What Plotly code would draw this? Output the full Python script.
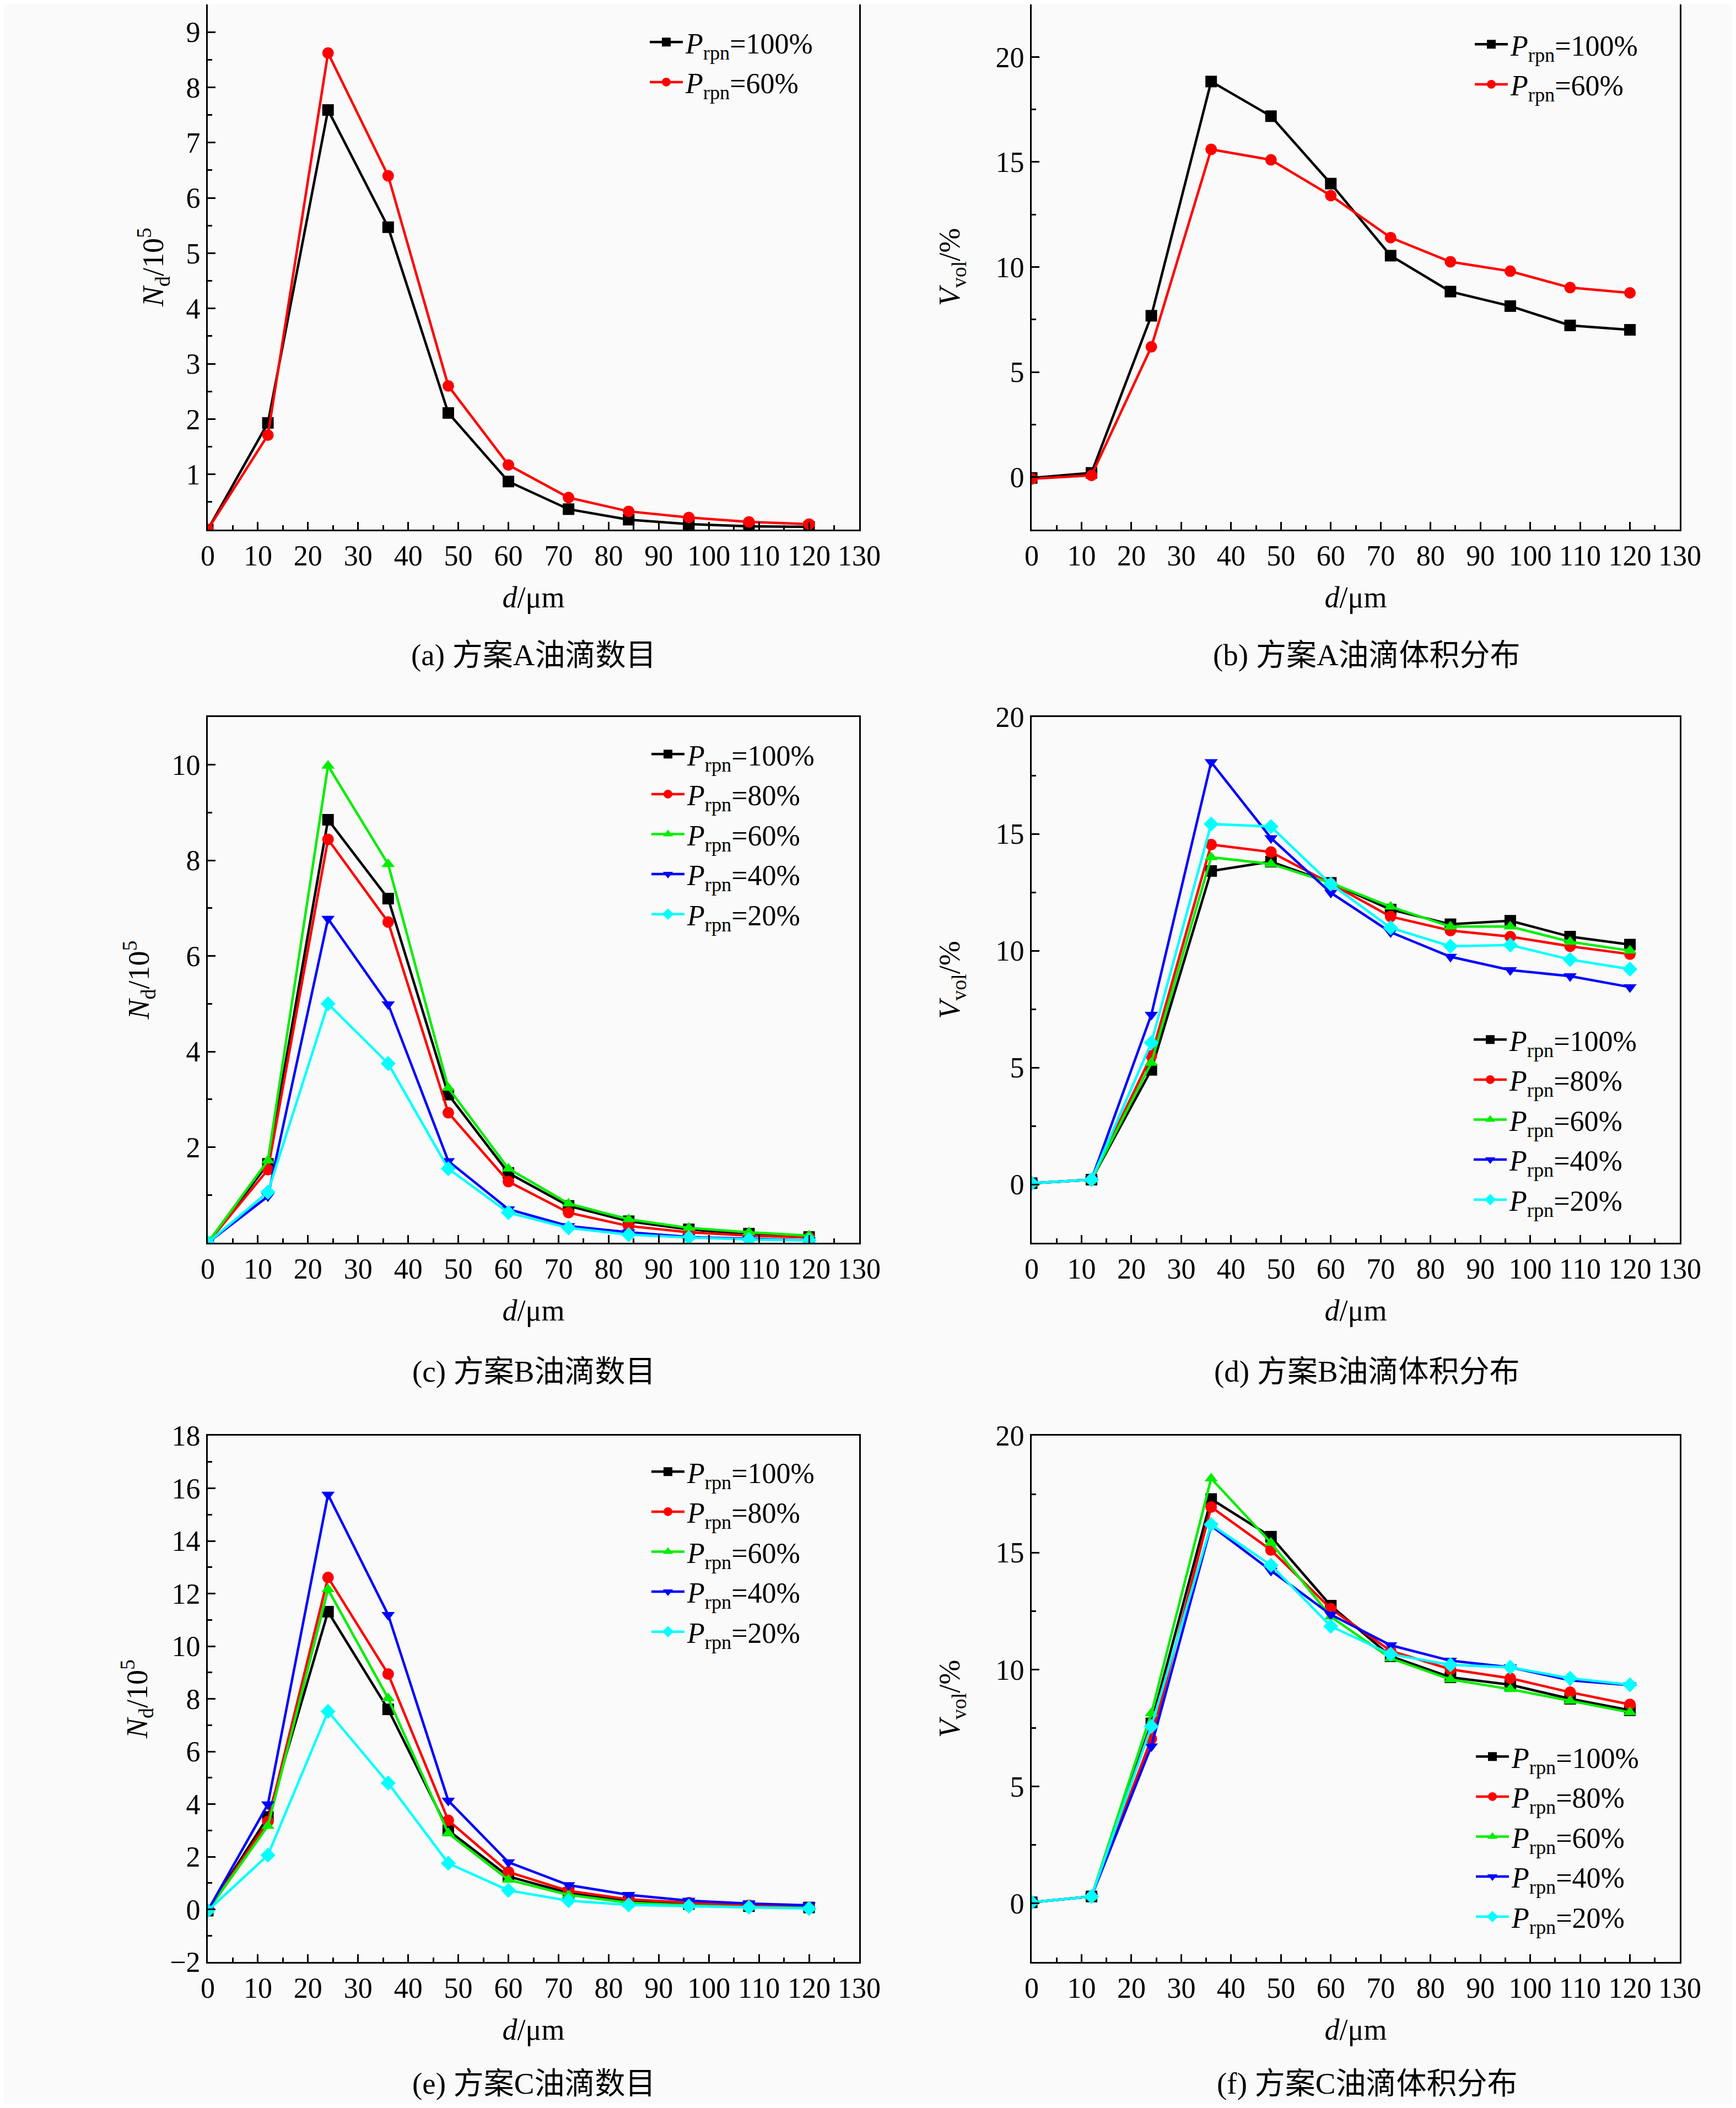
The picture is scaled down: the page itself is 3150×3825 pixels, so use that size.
import plotly.graph_objects as go
from plotly.subplots import make_subplots

# 油滴粒径 d/μm
d_um = [0, 12, 24, 36, 48, 60, 72, 84, 96, 108, 120]

# (a) 方案A油滴数目 N_d/10^5
a_100 = [0, 1.93, 7.59, 5.47, 2.11, 0.87, 0.37, 0.18, 0.10, 0.06, 0.05]
a_60 = [0, 1.71, 8.62, 6.40, 2.60, 1.17, 0.58, 0.33, 0.22, 0.14, 0.10]

# (b) 方案A油滴体积分布 V_vol/%
b_100 = [-0.04, 0.20, 7.68, 18.83, 17.18, 13.97, 10.54, 8.83, 8.14, 7.22, 7.01]
b_60 = [-0.08, 0.08, 6.20, 15.60, 15.10, 13.40, 11.40, 10.25, 9.80, 9.02, 8.77]

# (c) 方案B油滴数目
c_100 = [0, 1.65, 8.85, 7.20, 3.10, 1.46, 0.77, 0.45, 0.28, 0.19, 0.12]
c_80 = [0, 1.53, 8.44, 6.71, 2.72, 1.28, 0.63, 0.35, 0.22, 0.15, 0.11]
c_60 = [0, 1.72, 9.98, 7.92, 3.24, 1.55, 0.82, 0.49, 0.31, 0.22, 0.15]
c_40 = [0, 0.97, 6.78, 4.99, 1.71, 0.70, 0.35, 0.22, 0.12, 0.08, 0.05]
c_20 = [0, 1.06, 5.00, 3.75, 1.55, 0.63, 0.31, 0.17, 0.11, 0.07, 0.05]

# (d) 方案B油滴体积分布
d_100 = [0.05, 0.20, 4.90, 13.41, 13.81, 12.90, 11.76, 11.13, 11.28, 10.60, 10.26]
d_80 = [0.05, 0.20, 5.50, 14.54, 14.22, 12.87, 11.46, 10.86, 10.60, 10.19, 9.85]
d_60 = [0.05, 0.20, 5.20, 14.00, 13.71, 12.90, 11.88, 11.03, 11.03, 10.38, 10.00]
d_40 = [0.05, 0.20, 7.26, 18.07, 14.82, 12.48, 10.79, 9.74, 9.17, 8.91, 8.44]
d_20 = [0.05, 0.20, 6.06, 15.42, 15.31, 12.85, 10.98, 10.19, 10.24, 9.62, 9.21]

# (e) 方案C油滴数目
e_100 = [-0.05, 3.51, 11.31, 7.60, 3.00, 1.25, 0.62, 0.30, 0.20, 0.12, 0.07]
e_80 = [-0.05, 3.34, 12.61, 8.94, 3.38, 1.42, 0.70, 0.38, 0.25, 0.15, 0.08]
e_60 = [-0.05, 3.17, 12.16, 8.02, 2.89, 1.12, 0.55, 0.25, 0.15, 0.08, 0.05]
e_40 = [-0.05, 3.99, 15.76, 11.19, 4.13, 1.79, 0.92, 0.55, 0.33, 0.22, 0.15]
e_20 = [-0.05, 2.06, 7.52, 4.80, 1.75, 0.72, 0.33, 0.17, 0.12, 0.08, 0.03]

# (f) 方案C油滴体积分布
f_100 = [0.05, 0.30, 7.70, 17.29, 15.68, 12.73, 10.57, 9.67, 9.35, 8.75, 8.26]
f_80 = [0.05, 0.30, 7.04, 16.95, 15.11, 12.60, 10.80, 10.01, 9.63, 9.03, 8.51]
f_60 = [0.05, 0.30, 8.13, 18.17, 15.42, 12.26, 10.48, 9.58, 9.16, 8.66, 8.17]
f_40 = [0.05, 0.30, 6.72, 16.15, 14.23, 12.35, 11.04, 10.38, 10.10, 9.54, 9.33]
f_20 = [0.05, 0.30, 7.57, 16.20, 14.46, 11.85, 10.66, 10.20, 10.10, 9.63, 9.35]

labels_5 = ['100%', '80%', '60%', '40%', '20%']
labels_2 = ['100%', '60%']
captions = ['(a) 方案A油滴数目', '(b) 方案A油滴体积分布',
            '(c) 方案B油滴数目', '(d) 方案B油滴体积分布',
            '(e) 方案C油滴数目', '(f) 方案C油滴体积分布']
x_ticks = list(range(0, 131, 10))
y_ticks_a = [1, 2, 3, 4, 5, 6, 7, 8, 9]
y_ticks_c = [2, 4, 6, 8, 10]
y_ticks_e = [-2, 0, 2, 4, 6, 8, 10, 12, 14, 16, 18]
y_ticks_v = [0, 5, 10, 15, 20]

W, H = 3134, 3809
SERIF = 'Liberation Serif, Times New Roman, Noto Sans CJK SC'
BG = '#FAFAFA'


def px_x(x):
    return min(max((x - 8) / W, 0), 1)


def px_y(y):
    return min(max(1 - (y - 8) / H, 0), 1)


col_px = [(377, 1559), (1872, 3048)]
row_px = [(8, 961), (1301, 2255), (2605, 3560)]

fig = make_subplots(rows=3, cols=2)

styles = {
    '100%': dict(color='#000000', symbol='square'),
    '80%': dict(color='#FF0000', symbol='circle'),
    '60%': dict(color='#00EE00', symbol='triangle-up'),
    '40%': dict(color='#0000FF', symbol='triangle-down'),
    '20%': dict(color='#00FFFF', symbol='diamond'),
}

panels = [
    (1, 1, [a_100, a_60], labels_2),
    (1, 2, [b_100, b_60], labels_2),
    (2, 1, [c_100, c_80, c_60, c_40, c_20], labels_5),
    (2, 2, [d_100, d_80, d_60, d_40, d_20], labels_5),
    (3, 1, [e_100, e_80, e_60, e_40, e_20], labels_5),
    (3, 2, [f_100, f_80, f_60, f_40, f_20], labels_5),
]

for i, (r, c, series, labels) in enumerate(panels):
    leg = 'legend' if i == 0 else f'legend{i + 1}'
    for y, lab in zip(series, labels):
        st = styles[lab]
        if lab == '60%' and len(labels) == 2:
            st = styles['80%']
        fig.add_trace(go.Scatter(
            x=d_um, y=y, mode='lines+markers',
            name=f'<i>P</i><sub>rpn</sub>={lab}',
            legendgroup=f'g{i}_{lab}',
            line=dict(color=st['color'], width=4.5),
            marker=dict(color=st['color'], symbol=st['symbol'], size=21),
            legend=leg), r, c)

# 图例位置 (文字起点, 第一行中心)
legend_pos = [(1240, 78), (2737, 82), (1243, 1370), (2735, 1888), (1243, 2672), (2739, 3189)]
layout_leg = {}
for i, (tx, ty) in enumerate(legend_pos):
    key = 'legend' if i == 0 else f'legend{i + 1}'
    layout_leg[key] = dict(x=px_x(tx - 66), y=px_y(ty - 42), xanchor='left', yanchor='top',
                           bgcolor='rgba(0,0,0,0)', font=dict(family=SERIF, size=52, color='black'),
                           itemwidth=60, tracegroupgap=2)
fig.update_layout(**layout_leg)

y_cfg = {
    (1, 1): dict(range=[0, 9.5], tickvals=y_ticks_a, minor_dtick=0.5),
    (1, 2): dict(range=[-2.5, 22.5], tickvals=y_ticks_v, minor_dtick=2.5),
    (2, 1): dict(range=[0, 11], tickvals=y_ticks_c, minor_dtick=1),
    (2, 2): dict(range=[-2.5, 20], tickvals=y_ticks_v, minor_dtick=2.5),
    (3, 1): dict(range=[-2, 18], tickvals=y_ticks_e, minor_dtick=1),
    (3, 2): dict(range=[-2.5, 20], tickvals=y_ticks_v, minor_dtick=2.5),
}

axis_common = dict(showline=True, linecolor='black', linewidth=3, mirror=True,
                   ticks='inside', ticklen=14, tickwidth=3, tickcolor='black',
                   showgrid=False, zeroline=False, automargin=False,
                   tickfont=dict(family=SERIF, size=52, color='black'))

for r in range(1, 4):
    for c in range(1, 3):
        x0, x1 = col_px[c - 1]
        y0, y1 = row_px[r - 1]
        fig.update_xaxes(domain=[px_x(x0), px_x(x1)], range=[0, 130], tickvals=x_ticks,
                         minor=dict(dtick=5, tick0=0, ticks='inside', ticklen=8,
                                    tickwidth=3, tickcolor='black'),
                         title=dict(text='<i>d</i>/μm', standoff=28,
                                    font=dict(family=SERIF, size=54, color='black')),
                         row=r, col=c, **axis_common)
        cfg = y_cfg[(r, c)]
        ytitle = '<i>N</i><sub>d</sub>/10<sup>5</sup>' if c == 1 else '<i>V</i><sub>vol</sub>/%'
        fig.update_yaxes(domain=[px_y(y1), px_y(y0)], range=cfg['range'], tickvals=cfg['tickvals'],
                         minor=dict(dtick=cfg['minor_dtick'], tick0=0, ticks='inside', ticklen=8,
                                    tickwidth=3, tickcolor='black'),
                         title=dict(text=ytitle, standoff=24 if c == 1 else 48,
                                    font=dict(family=SERIF, size=54, color='black')),
                         row=r, col=c, **axis_common)

caption_y = [1188, 2488, 3780]
for i, cap in enumerate(captions):
    r, c = divmod(i, 2)
    x0, x1 = col_px[c]
    fig.add_annotation(text=cap, x=px_x((x0 + x1) / 2 + (20 if c == 1 else 0)), y=px_y(caption_y[r]),
                       xref='paper', yref='paper', xanchor='center', yanchor='middle',
                       showarrow=False, font=dict(family=SERIF, size=55, color='black'))

fig.update_layout(width=W, height=H, margin=dict(l=0, r=0, t=0, b=0, autoexpand=False),
                  paper_bgcolor=BG, plot_bgcolor=BG, showlegend=True,
                  font=dict(family=SERIF, color='black'))

fig.write_html("out.html")
